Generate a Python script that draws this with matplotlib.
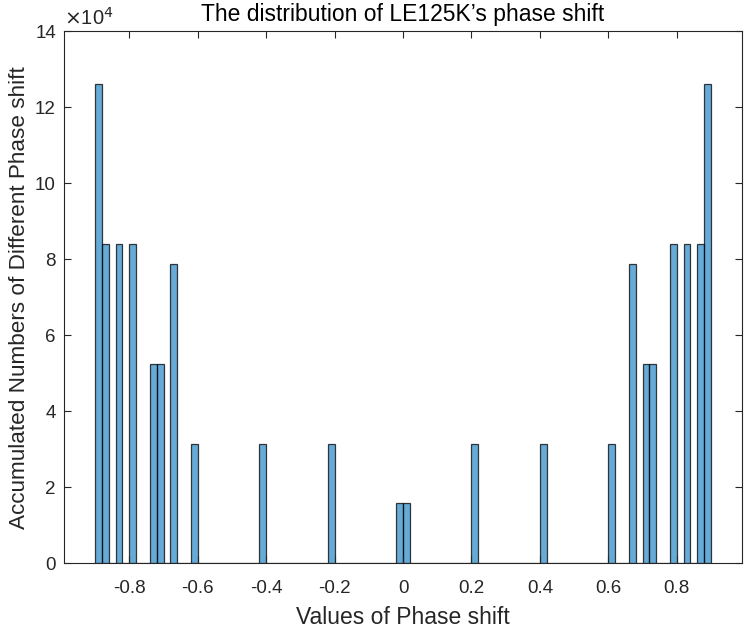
import numpy as np
import matplotlib.pyplot as plt

plt.rcParams['font.family'] = ['Liberation Sans', 'DejaVu Sans']

# histogram bins (width 0.02 from -0.9 to 0.9)
bin_edges = np.round(np.arange(-0.9, 0.9001, 0.02), 2)

# left edge of every non-empty bin and its count
bin_starts = [-0.90, -0.88, -0.84, -0.80, -0.74, -0.72, -0.68, -0.62, -0.42, -0.22,
              -0.02, 0.00, 0.20, 0.40, 0.60, 0.66, 0.70, 0.72, 0.78, 0.82, 0.86, 0.88]
bin_counts = [126000, 84000, 84000, 84000, 52500, 52500, 78750, 31500, 31500, 31500,
              15750, 15750, 31500, 31500, 31500, 78750, 52500, 52500, 84000, 84000, 84000, 126000]

centers = np.array(bin_starts) + 0.01

fig = plt.figure(figsize=(7.44, 6.28), dpi=100)
ax = fig.add_axes([0.0864, 0.103, 0.9106, 0.8476])

ax.hist(centers, bins=bin_edges, weights=bin_counts,
        facecolor=(0, 0.447, 0.741, 0.6), edgecolor=(0, 0, 0, 0.75), linewidth=0.9)

ax.set_xlim(-0.99, 0.99)
ax.set_ylim(0, 140000)
ax.set_xticks([-0.8, -0.6, -0.4, -0.2, 0, 0.2, 0.4, 0.6, 0.8])
ax.set_xticklabels(['-0.8', '-0.6', '-0.4', '-0.2', '0', '0.2', '0.4', '0.6', '0.8'])
yt = np.arange(0, 140001, 20000)
ax.set_yticks(yt)
ax.set_yticklabels([str(int(v / 10000)) for v in yt])
ax.text(0, 1.004, r'$\times$10$^4$', transform=ax.transAxes, fontsize=14.5,
        va='bottom', ha='left', color='#262626')

ax.tick_params(direction='in', top=True, right=True, length=5, width=0.8,
               labelsize=13.5, colors='#262626')
ax.tick_params(axis='x', pad=12)
ax.tick_params(axis='y', pad=6)
for s in ax.spines.values():
    s.set_color('#262626')
    s.set_linewidth(0.8)

ax.set_xlabel('Values of Phase shift', fontsize=16.5, color='#262626', labelpad=6.5)
ax.set_ylabel('Accumulated Numbers of Different Phase shift', fontsize=16.2,
              color='#262626', labelpad=4)
ax.set_title('The distribution of LE125K\u2019s phase shift', fontsize=16.5,
             color='black', pad=7)

fig.savefig('out.png', dpi=100)
